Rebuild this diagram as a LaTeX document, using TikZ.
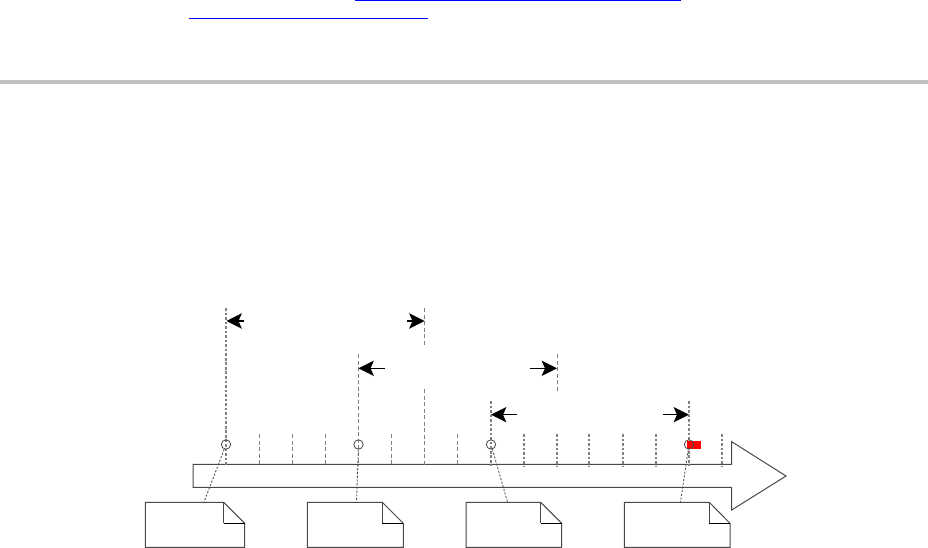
\documentclass[tikz,border=0pt]{standalone}
\usetikzlibrary{arrows.meta}
\definecolor{outl}{HTML}{484848}
\definecolor{tickc}{HTML}{808080}
\definecolor{rulegray}{HTML}{C0C0C0}
\tikzset{
  x=0.75pt,y=-0.75pt,
  outline/.style={draw=outl,line width=0.75pt,fill=white,line join=miter},
  foldline/.style={draw=black,line width=0.75pt},
  tickthin/.style={draw=tickc,line width=0.75pt,dash pattern=on 3pt off 1.9pt},
  tickthick/.style={draw=tickc,line width=1.2pt,dash pattern=on 2pt off 1.4pt},
  spanarrow/.style={draw=black,line width=1pt,-{Stealth[length=11.5pt,width=11.5pt,inset=2.5pt]},shorten >=0pt},
  spanarrowthin/.style={draw=black,line width=0.75pt,-{Stealth[length=11.5pt,width=11.5pt,inset=2.5pt]}},
  link/.style={draw=outl,line width=0.6pt,dash pattern=on 1.6pt off 1.2pt},
  mark circle/.style={circle,draw=outl,line width=0.6pt,minimum size=7pt,inner sep=0pt},
  hyper/.style={draw=blue,line width=1pt},
}
\begin{document}
\begin{tikzpicture}
\useasboundingbox (0,0) rectangle (928,548);
% header rules
\coordinate (l1a) at (355,0.7); \coordinate (l1b) at (681,0.7);
\coordinate (l2a) at (189,18.3); \coordinate (l2b) at (428.3,18.3);
\draw[hyper] (l1a) -- (l1b);
\draw[hyper] (l2a) -- (l2b);
\fill[rulegray] (0,80) rectangle (928,84);
% big arrow
\draw[outline] (193,464.3) -- (731.7,464.3) -- (731.7,441.7) -- (786,476) -- (731.7,510) -- (731.7,487.3) -- (193,487.3) -- cycle;
% ticks
\foreach \x in {259,292,325.5,391.5,457.5}
  \draw[tickthin] (\x,434) -- (\x,466);
\foreach \x in {524,557,589,623,656,722}
  \draw[tickthick] (\x,434) -- (\x,466);
\draw[tickthin] (424.5,389) -- (424.5,466);
\draw[tickthin] (424.5,308) -- (424.5,345);
\draw[tickthin] (557,354) -- (557,392);
\draw[tickthick] (226,308) -- (226,466);
\draw[tickthin] (358.5,354) -- (358.5,466);
\draw[tickthick] (491,401) -- (491,466);
\draw[tickthick] (689,401) -- (689,466);
% marker
\fill[red] (687.3,441) rectangle (701,448.7);
\node[mark circle] (c1) at (226,444.5) {};
\node[mark circle] (c2) at (358.5,444.5) {};
\node[mark circle] (c3) at (491,444.5) {};
\node[mark circle] (c4) at (689,444.5) {};
% span arrows
\coordinate (a1l) at (226.5,321); \coordinate (a1lt) at (244,321);
\coordinate (a1r) at (424.5,321); \coordinate (a1rt) at (407,321);
\coordinate (a2l) at (358.5,368.3); \coordinate (a2lt) at (385,368.3);
\coordinate (a2r) at (557,368.3); \coordinate (a2rt) at (530,368.3);
\coordinate (a3l) at (491,414.7); \coordinate (a3lt) at (517,414.7);
\coordinate (a3r) at (689,414.7); \coordinate (a3rt) at (663,414.7);
\draw[spanarrow] (a1lt) -- (a1l);
\draw[spanarrow] (a1rt) -- (a1r);
\draw[spanarrowthin] (a2lt) -- (a2l);
\draw[spanarrowthin] (a2rt) -- (a2r);
\draw[spanarrow] (a3lt) -- (a3l);
\draw[spanarrow] (a3rt) -- (a3r);
% documents
\foreach \l/\f/\r/\n in {145.3/223.7/244.7/d1, 307.3/382.3/403.3/d2, 466/540.7/561.7/d3, 624.3/709.3/730/d4}{
  \draw[outline] (\l,502.3) -- (\f,502.3) -- (\r,523.3) -- (\r,547.3) -- (\l,547.3) -- cycle;
  \draw[outline] (\f,502.3) -- (\f,523.3);
  \draw[foldline] (\f,523.3) -- (\r,523.3);
}
\coordinate (d1t) at (204,502);
\coordinate (d2t) at (356.5,502);
\coordinate (d3t) at (507.5,502);
\coordinate (d4t) at (680.5,502);
\draw[link] (c1) -- (d1t);
\draw[link] (c2) -- (d2t);
\draw[link] (c3) -- (d3t);
\draw[link] (c4) -- (d4t);
\end{tikzpicture}
\end{document}
